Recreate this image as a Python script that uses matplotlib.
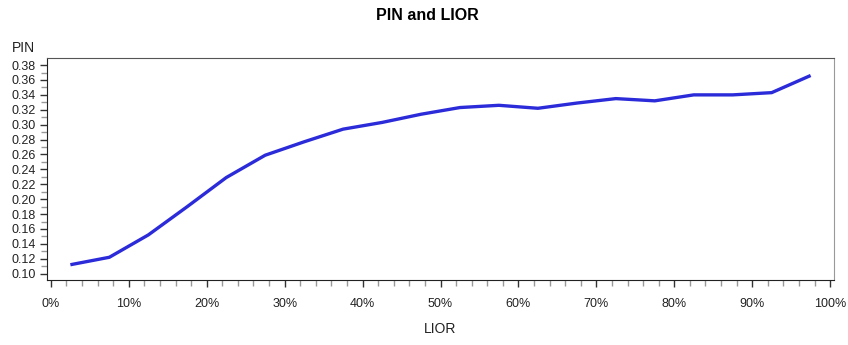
import matplotlib.pyplot as plt
from matplotlib.ticker import MultipleLocator, PercentFormatter

plt.rcParams['font.family'] = ['Liberation Sans', 'DejaVu Sans']

# LIOR bucket midpoints (%) and average PIN per bucket
lior = [2.5, 7.5, 12.5, 17.5, 22.5, 27.5, 32.5, 37.5, 42.5, 47.5,
        52.5, 57.5, 62.5, 67.5, 72.5, 77.5, 82.5, 87.5, 92.5, 97.5]
pin = [0.112, 0.122, 0.152, 0.190, 0.229, 0.259, 0.277, 0.294, 0.303, 0.314,
       0.323, 0.326, 0.322, 0.329, 0.335, 0.332, 0.340, 0.340, 0.343, 0.366]

fig = plt.figure(figsize=(8.48, 3.45), dpi=100)
ax = fig.add_axes([47 / 848, 1 - 280 / 345, 787 / 848, 222 / 345])

ax.plot(lior, pin, color='#2b2bd9', linewidth=2.4, solid_capstyle='butt')

ax.set_xlim(-0.5, 100.5)
ax.set_ylim(0.0915, 0.3895)
ax.xaxis.set_major_locator(MultipleLocator(10))
ax.xaxis.set_minor_locator(MultipleLocator(2))
ax.xaxis.set_major_formatter(PercentFormatter(decimals=0))
ax.yaxis.set_major_locator(MultipleLocator(0.02))
ax.yaxis.set_minor_locator(MultipleLocator(0.01))
ax.yaxis.set_major_formatter(lambda v, p: f'{v:.2f}')

ax.tick_params(which='major', direction='out', length=5, width=1,
               color='#333333', labelsize=9, labelcolor='#222222')
ax.tick_params(axis='x', which='major', pad=8)
ax.tick_params(axis='y', which='major', pad=3)
ax.tick_params(which='minor', direction='out', length=4, width=1, color='#999999')

for side in ('left', 'bottom'):
    ax.spines[side].set_color('#222222')
ax.spines['top'].set_color('#555555')
ax.spines['right'].set_color('#999999')

fig.text(427 / 848, 1 - 16 / 345, 'PIN and LIOR', ha='center', va='center',
         fontsize=11.5, fontweight='bold')
fig.text(12 / 848, 1 - 48 / 345, 'PIN', ha='left', va='center', fontsize=10,
         color='#222222')
fig.text(440 / 848, 1 - 329 / 345, 'LIOR', ha='center', va='center', fontsize=10,
         color='#222222')

fig.savefig('out.png', dpi=100)
